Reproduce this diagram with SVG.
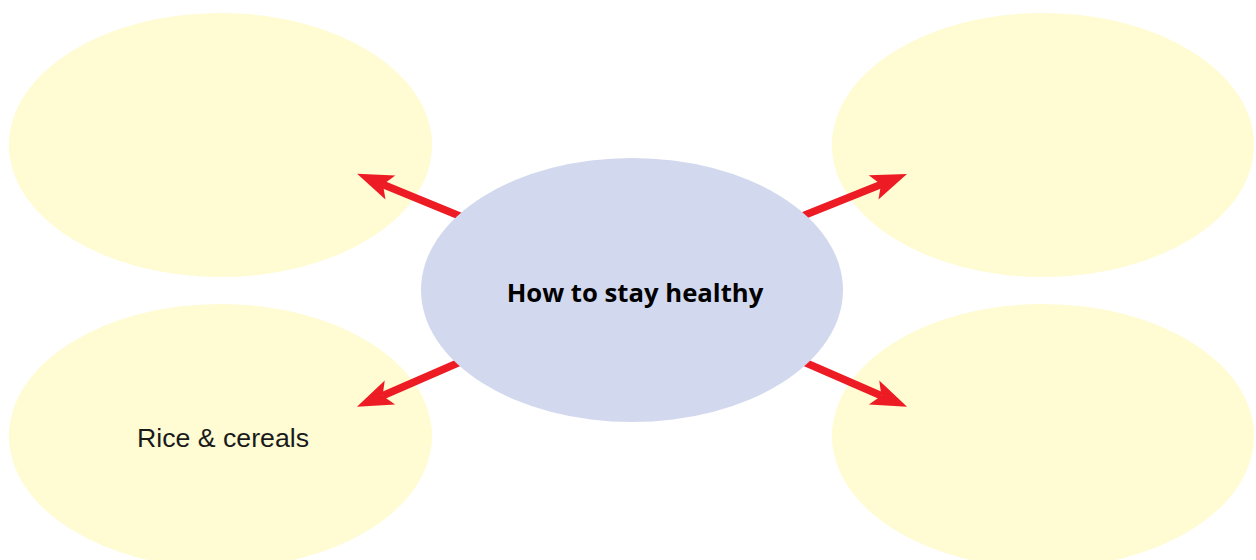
<svg xmlns="http://www.w3.org/2000/svg" width="1256" height="560" viewBox="0 0 1256 560">
<style>
.leaf{fill:#fffbd3}
.hub{fill:#d2d9ee}
.conn{stroke:#ed1c24;stroke-width:7.5;fill:none;marker-end:url(#ah)}
.t1{font-family:"Open Sans","Liberation Sans",sans-serif;font-weight:bold;font-size:25.7px;fill:#000}
.t2{font-family:"Liberation Sans",sans-serif;font-size:26.6px;fill:#1a1a1a}
</style>
<defs>
<marker id="ah" markerUnits="userSpaceOnUse" viewBox="-1 -15 40 30" markerWidth="40" markerHeight="30" refX="8" refY="0" orient="auto">
<path d="M36,0 L0,-13 L8,0 L0,13 Z" fill="#ed1c24"/>
</marker>
</defs>
<rect width="1256" height="560" fill="#fff"/>
<g id="node-tl"><ellipse class="leaf" cx="220.5" cy="145" rx="211.5" ry="132"/></g>
<g id="node-tr"><ellipse class="leaf" cx="1043" cy="145" rx="211" ry="132"/></g>
<g id="node-bl"><ellipse class="leaf" cx="220.5" cy="436" rx="211.5" ry="132"/><text class="t2" x="137" y="447" textLength="172" lengthAdjust="spacingAndGlyphs">Rice &amp; cereals</text></g>
<g id="node-br"><ellipse class="leaf" cx="1043" cy="436" rx="211" ry="132"/></g>
<g id="connectors">
<line class="conn" x1="467" y1="219" x2="383" y2="184.5"/>
<line class="conn" x1="795" y1="219" x2="881" y2="184.4"/>
<line class="conn" x1="467" y1="359" x2="382.6" y2="395.7"/>
<line class="conn" x1="797" y1="359" x2="881.4" y2="395.7"/>
</g>
<g id="node-center"><ellipse class="hub" cx="632" cy="290" rx="211" ry="132"/><text class="t1" x="635" y="302" text-anchor="middle">How to stay healthy</text></g>
</svg>
